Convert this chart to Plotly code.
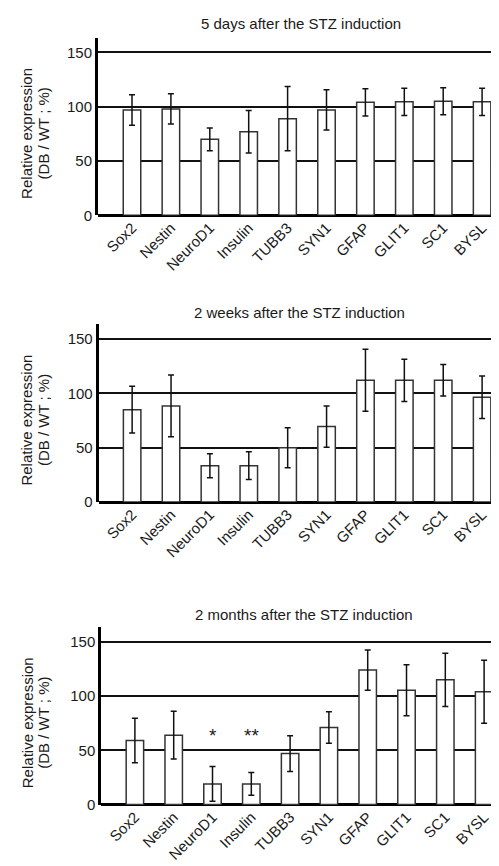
import plotly.graph_objects as go

categories = ["Sox2", "Nestin", "NeuroD1", "Insulin", "TUBB3", "SYN1", "GFAP", "GLIT1", "SC1", "BYSL"]

days5_mean = [97, 98, 70, 77, 89, 97, 104, 104.5, 105, 104.5]
days5_err = [14, 14, 10.5, 19.5, 29.5, 18.5, 12.5, 12.5, 12.5, 12.5]

weeks2_mean = [85, 88.5, 33.5, 33.5, 50, 69.5, 112, 112, 112, 96.5]
weeks2_err = [21.5, 28.5, 11, 12.8, 18.5, 19, 28.5, 19.5, 14.5, 19.5]

months2_mean = [59, 64, 19, 19, 47, 71, 124, 105.5, 115, 104]
months2_err = [20.5, 22, 16, 10.5, 16.5, 14.5, 18.5, 23.5, 24.5, 29]

titles = ["5 days after the STZ induction", "2 weeks after the STZ induction", "2 months after the STZ induction"]
y_ticks = [0, 50, 100, 150]
stars = {"NeuroD1": "*", "Insulin": "**"}

W, H = 499, 866
FONT = "Liberation Sans, Arial, sans-serif"
TXT = "#1a1a1a"

# pixel geometry per panel: (axis left x, zero y, top y, title center x, title center y, x range)
panels = [
    (90.0, 209.3, 30.0, 293, 16, [-0.874, 9.64]),
    (90.7, 498.7, 319.3, 291, 307, [-0.86, 9.64]),
    (93.3, 804.0, 625.0, 296, 612, [-0.866, 9.59]),
]
series = [(days5_mean, days5_err), (weeks2_mean, weeks2_err), (months2_mean, months2_err)]

fig = go.Figure()
layout = dict(
    width=W, height=H, margin=dict(l=0, r=0, t=0, b=0),
    paper_bgcolor="white", plot_bgcolor="white", showlegend=False,
    font=dict(family=FONT, size=15, color=TXT),
)
annotations = []
for i, ((ax_x, y0, y1, tx, ty, xr), (m, e)) in enumerate(zip(panels, series)):
    n = "" if i == 0 else str(i + 1)
    fig.add_trace(go.Bar(
        x=categories, y=m, xaxis="x" + n, yaxis="y" + n, width=0.45,
        marker=dict(color="white", line=dict(color="#333333", width=1.5)),
        error_y=dict(type="data", array=e, visible=True, color="#111111", thickness=1.5, width=3),
    ))
    layout["xaxis" + n] = dict(
        domain=[ax_x / W, 1], anchor="y" + n, type="category", range=xr,
        showline=False, showgrid=False, zeroline=False, ticks="", tickangle=-45,
        tickfont=dict(size=15, color=TXT, family=FONT), fixedrange=True,
    )
    layout["yaxis" + n] = dict(
        domain=[1 - y0 / H, 1 - y1 / H], anchor="x" + n, range=[0, 163.5],
        tickvals=y_ticks, ticktext=[str(v) for v in y_ticks],
        showline=True, linecolor="black", linewidth=3,
        showgrid=True, gridcolor="#111111", gridwidth=1.5,
        zeroline=True, zerolinecolor="black", zerolinewidth=3,
        ticks="", ticklen=0, tickfont=dict(size=15, color=TXT, family=FONT),
        fixedrange=True,
    )
    annotations.append(dict(
        x=tx / W, y=1 - ty / H, xref="paper", yref="paper", text=titles[i],
        showarrow=False, xanchor="center", yanchor="middle", font=dict(size=15, color=TXT),
    ))
    ymid = 1 - ((y0 + (y0 - 150 * (y0 - y1) / 163.5)) / 2) / H
    annotations.append(dict(
        x=19 / W, y=ymid, xref="paper", yref="paper", text="Relative expression",
        textangle=-90, showarrow=False, xanchor="center", yanchor="middle", font=dict(size=15, color=TXT),
    ))
    annotations.append(dict(
        x=35.5 / W, y=ymid, xref="paper", yref="paper", text="(DB / WT ; %)",
        textangle=-90, showarrow=False, xanchor="center", yanchor="middle", font=dict(size=15, color=TXT),
    ))
    if i == 2:
        for cat, s in stars.items():
            annotations.append(dict(
                x=cat, y=64, xref="x3", yref="y3", text=s, showarrow=False,
                xanchor="center", yanchor="middle", font=dict(size=19, color=TXT),
            ))

layout["annotations"] = annotations
fig.update_layout(**layout)
fig.write_html("out.html")
